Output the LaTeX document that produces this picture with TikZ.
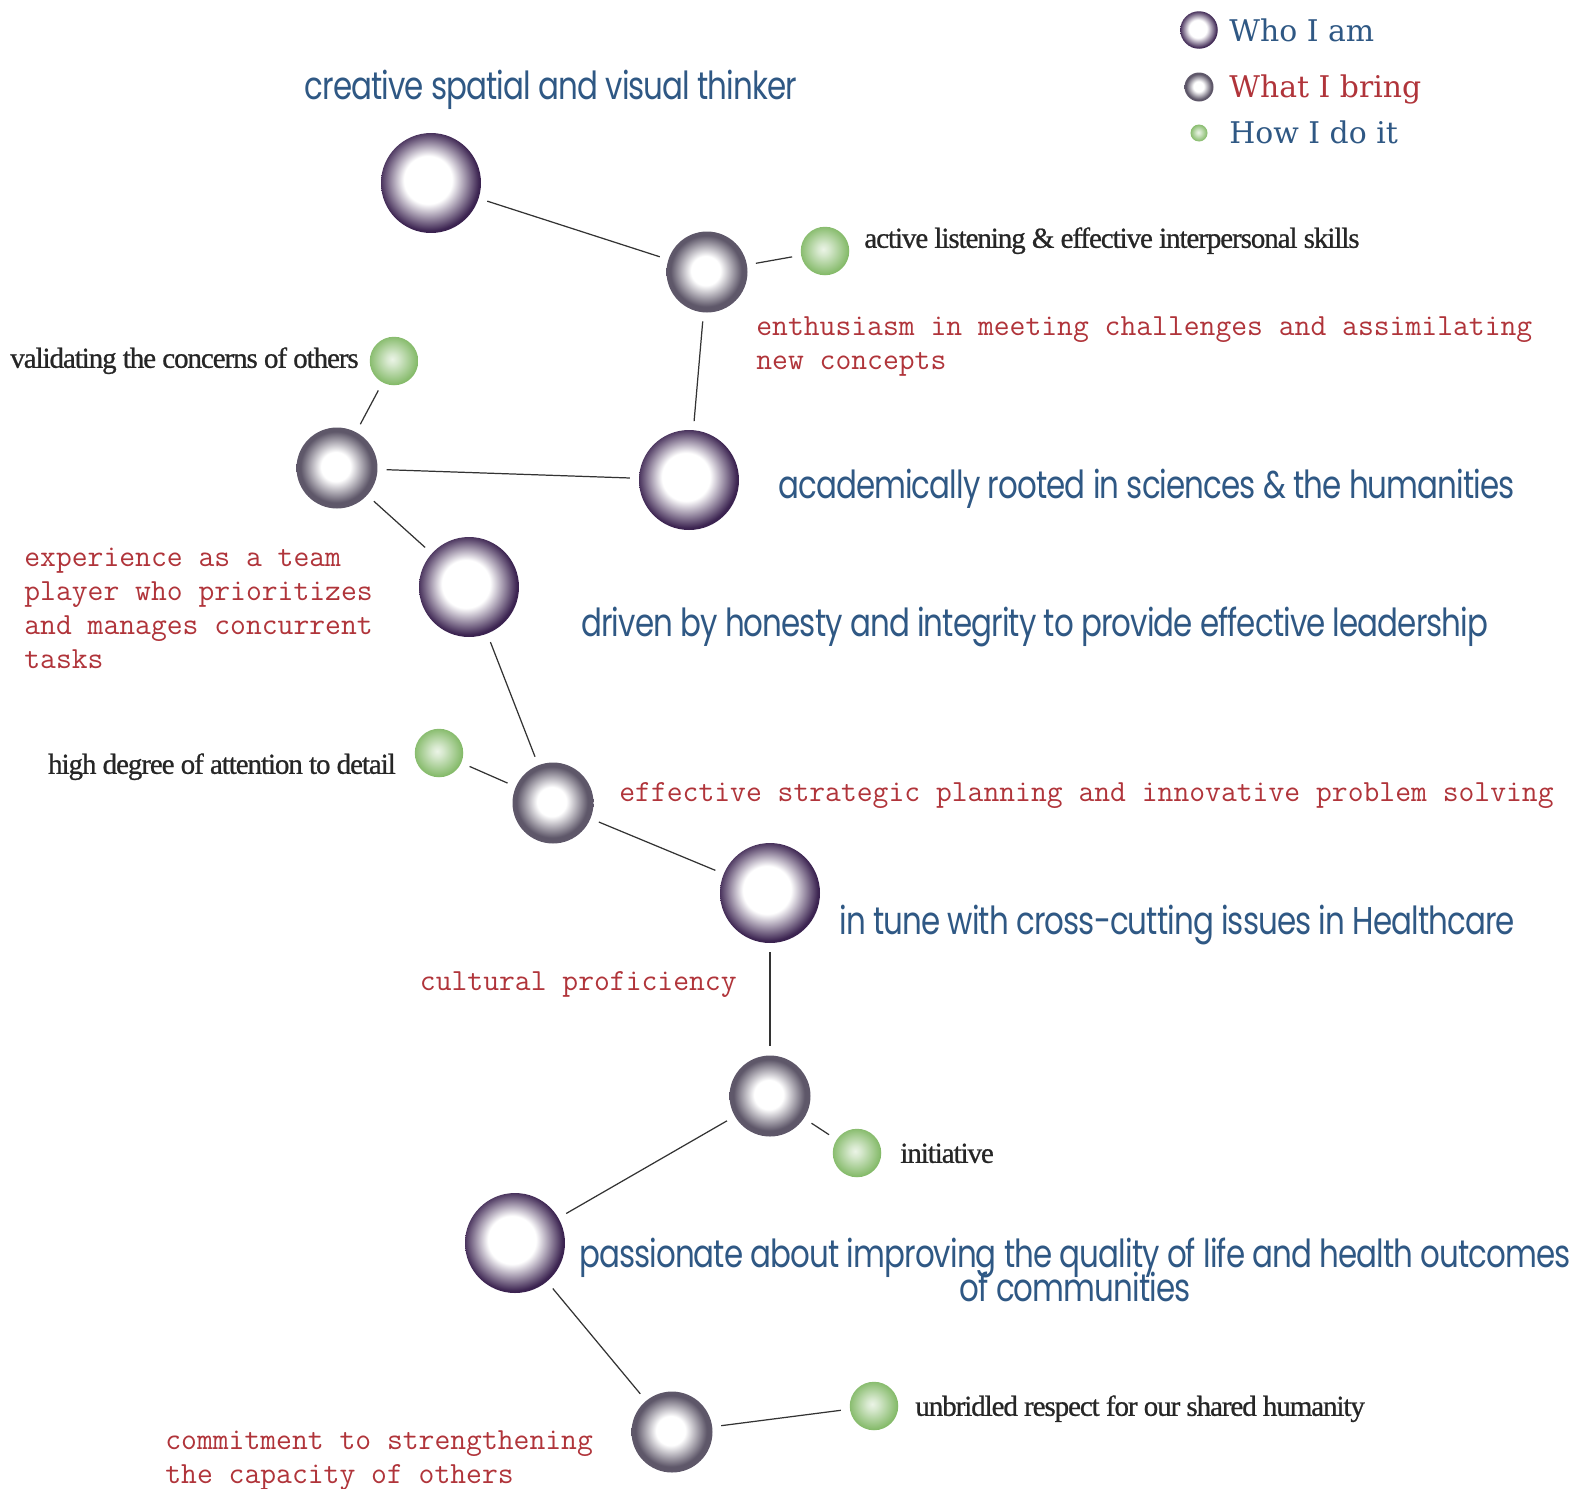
\documentclass[tikz,border=0pt]{standalone}
\usepackage{fontspec}
\newfontfamily\whofont[FakeStretch=0.8, LetterSpace=-2.4]{Poppins}
\newfontfamily\howfont[LetterSpace=-3.7, FakeBold=0.8]{Liberation Serif}
\newfontfamily\keyfont{DejaVu Serif}
\definecolor{whocol}{HTML}{3B2350}
\definecolor{bringcol}{HTML}{5E5769}
\definecolor{howcol}{HTML}{78B35A}
\definecolor{bluetext}{HTML}{2F5884}
\definecolor{redtext}{HTML}{B0343A}
\definecolor{linecol}{HTML}{333333}
\pgfdeclareradialshading{whoshade}{\pgfpoint{-2bp}{2bp}}{color(0bp)=(white); color(12bp)=(white); color(25bp)=(whocol); color(50bp)=(whocol)}
\pgfdeclareradialshading{bringshade}{\pgfpoint{-1bp}{1bp}}{color(0bp)=(white); color(9bp)=(white); color(22bp)=(bringcol); color(50bp)=(bringcol)}
\pgfdeclareradialshading{howshade}{\pgfpoint{-2bp}{2bp}}{color(0bp)=(howcol!15); color(6bp)=(howcol!30); color(28bp)=(howcol); color(50bp)=(howcol)}
\tikzset{
  who/.style={circle, minimum size=2cm, inner sep=0pt, shading=whoshade},
  bring/.style={circle, minimum size=1.62cm, inner sep=0pt, shading=bringshade},
  how/.style={circle, minimum size=0.97cm, inner sep=0pt, shading=howshade},
  whotext/.style={font=\whofont\fontsize{22}{20}\selectfont, text=bluetext, inner sep=0pt},
  bringtext/.style={font=\ttfamily\fontsize{17.5}{19.3}\selectfont, text=redtext, inner sep=0pt, align=left},
  howtext/.style={font=\howfont\fontsize{16.5}{18}\selectfont, text=black!85, inner sep=0pt},
  keytext/.style={font=\keyfont\fontsize{17}{19}\selectfont, inner sep=0pt}
}

\begin{document}
\begin{tikzpicture}[x=0.02cm, y=-0.02cm,
  every edge/.append style={draw=linecol, line width=0.7pt, shorten <=5pt, shorten >=5pt}]
	\useasboundingbox (0,0) rectangle (1584,1488);
	% who I am
	\node[who] (w1) at (431,183) {};
	\node[who] (w2) at (689,480) {};
	\node[who] (w3) at (469,587) {};
	\node[who] (w4) at (770,893) {};
	\node[who] (w5) at (515,1243) {};
	% what I bring
	\node[bring] (b1) at (707,272) {};
	\node[bring] (b2) at (337,468) {};
	\node[bring] (b3) at (553,803) {};
	\node[bring] (b4) at (770,1096) {};
	\node[bring] (b5) at (672,1432) {};
	% how I do it
	\node[how] (h1) at (825,251) {};
	\node[how] (h2) at (394,361) {};
	\node[how] (h3) at (439,753) {};
	\node[how] (h4) at (857,1153) {};
	\node[how] (h5) at (874,1406) {};
	\path (w1) edge (b1);
	\path (b1) edge (h1);
	\path (b1) edge (w2);
	\path (w2) edge (b2);
	\path (b2) edge (h2);
	\path (b2) edge (w3);
	\path (w3) edge (b3);
	\path (b3) edge (h3);
	\path (b3) edge (w4);
	\path (w4) edge (b4);
	\path (b4) edge (h4);
	\path (b4) edge (w5);
	\path (w5) edge (b5);
	\path (b5) edge (h5);
	\node[whotext] (tw1) at (551,90) {creative spatial and visual thinker};
	\node[whotext, anchor=mid west] (tw2) at (778,495) {academically rooted in sciences \& the humanities};
	\node[whotext, anchor=mid west] (tw3) at (581,633) {driven by honesty and integrity to provide effective leadership};
	\node[whotext, anchor=mid west] (tw4) at (839,931) {in tune with cross-cutting issues in Healthcare};
	\node[whotext, anchor=north, align=center] (tw5) at (1075,1238) {passionate about improving the quality of life and health outcomes\\[-4.5pt]of communities};
	\node[bringtext, anchor=north west] (tb1) at (756,316) {enthusiasm in meeting challenges and assimilating\\new concepts};
	\node[bringtext, anchor=north west] (tb2) at (24,548) {experience as a team\\player who prioritizes\\and manages concurrent\\tasks};
	\node[bringtext, anchor=mid west] (tb3) at (619,798) {effective strategic planning and innovative problem solving};
	\node[bringtext, anchor=mid east] (tb4) at (737,987) {cultural proficiency};
	\node[bringtext, anchor=north west] (tb5) at (165,1430) {commitment to strengthening\\the capacity of others};
	\node[howtext, anchor=mid west] (th1) at (864,244) {active listening \& effective interpersonal skills};
	\node[howtext, anchor=mid east] (th2) at (359,364) {validating the concerns of others};
	\node[howtext, anchor=mid east] (th3) at (396,770) {high degree of attention to detail};
	\node[howtext, anchor=mid west] (th4) at (900,1159) {initiative};
	\node[howtext, anchor=mid west] (th5) at (915,1412) {unbridled respect for our shared humanity};
	% legend
	\node[who, minimum size=0.75cm] (kw) at (1199,30) {};
	\node[bring, minimum size=0.58cm] (kb) at (1199,87) {};
	\node[how, minimum size=0.34cm] (kh) at (1199,133) {};
	\node[keytext, text=bluetext, anchor=mid west] (lw) at (1229,38) {Who I am};
	\node[keytext, text=redtext, anchor=mid west] (lb) at (1229,94) {What I bring};
	\node[keytext, text=bluetext, anchor=mid west] (lh) at (1229,140) {How I do it};
\end{tikzpicture}
\end{document}
